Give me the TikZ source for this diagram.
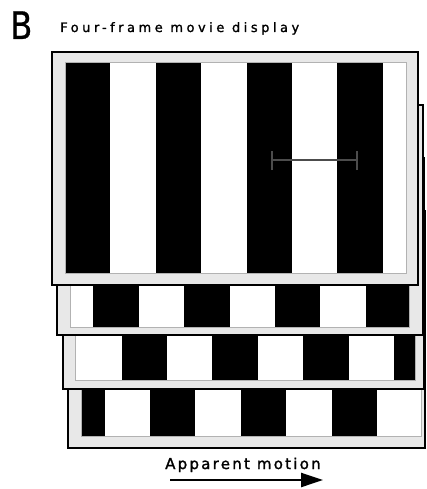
\documentclass[tikz,border=0pt]{standalone}
\usepackage{fontspec}
\setmainfont{DejaVu Sans}
\newfontfamily\lblfont[LetterSpace=27,FakeBold=1.3]{DejaVu Sans}
\newfontfamily\motfont[LetterSpace=15,FakeBold=1.5]{DejaVu Sans}
\newfontfamily\panelfont[FakeBold=0.7]{DejaVu Sans}
\usetikzlibrary{arrows.meta}
\tikzset{
  frameout/.style={draw=black, line width=1.1pt, fill=gray!18},
  frameinner/.style={draw=gray!60, line width=0.7pt},
  stripefill/.style={fill=black},
  measure/.style={draw=gray!60!black, line width=1.5pt},
  motionarrow/.style={line width=2.4pt, -{Triangle[length=22pt,width=14pt]}},
}
\begin{document}
\begin{tikzpicture}[x=1pt,y=-1pt]
\useasboundingbox (0,0) rectangle (426,489);
\fill[white] (0,0) rectangle (426,489);

% frames, back to front
\foreach \fl/\ft/\fr/\fb/\il/\it/\ir/\ib/\ph in {
  68/211/425/448/81/221/421/436/149.9,
  63/158/424/389/75/168/415/380/121.6,
  57/105/423/335/70/115/409/327/93.3,
  52/52/418/285/65/62/406/273/65}{
  \draw[frameout] (\fl,\ft) rectangle (\fr,\fb);
  \fill[white] (\il,\it) rectangle (\ir,\ib);
  \begin{scope}
    \clip (\il,\it) rectangle (\ir,\ib);
    \foreach \n in {-2,...,4}{
      \fill[stripefill] ({\ph+\n*90.8},\it) rectangle ({\ph+\n*90.8+45.4},\ib);
    }
  \end{scope}
  \draw[frameinner] (\il,\it) rectangle (\ir,\ib);
}

% measurement bar
\coordinate (barL) at (272,160);
\coordinate (barR) at (357,160);
\draw[measure] (barL) -- (barR);
\draw[measure] ([yshift=-10pt]barL) -- ([yshift=9pt]barL);
\draw[measure] ([yshift=-10pt]barR) -- ([yshift=9pt]barR);

% labels
\node[anchor=base west, inner sep=0pt, font=\fontsize{38}{40}\selectfont\panelfont] (panel) at (10,39) {\scalebox{0.85}[1]{B}};
\node[anchor=base west, inner sep=0pt, font=\fontsize{13}{15}\selectfont\lblfont] (title) at (60,32) {Four-frame movie display};
\node[anchor=base west, inner sep=0pt, font=\fontsize{15}{17}\selectfont\motfont] (motion) at (165,469) {Apparent motion};

% arrow
\coordinate (arrS) at (170,480);
\coordinate (arrE) at (323,480);
\draw[motionarrow] (arrS) -- (arrE);
\end{tikzpicture}
\end{document}
